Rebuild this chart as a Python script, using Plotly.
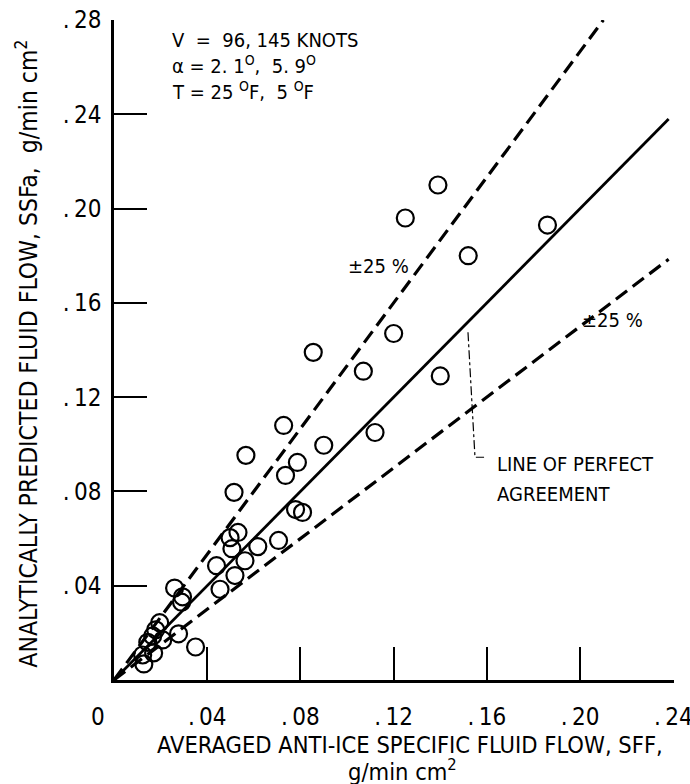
import plotly.graph_objects as go

# ---- data ----
sff = [0.186, 0.152, 0.139, 0.125, 0.120, 0.0855, 0.107, 0.140, 0.0728, 0.090,
       0.112, 0.0566, 0.0787, 0.0736, 0.0515, 0.0779, 0.0809, 0.0532, 0.0498, 0.0506,
       0.0617, 0.0706, 0.0562, 0.0440, 0.0519, 0.0455, 0.0260, 0.0294, 0.0290, 0.0277,
       0.0350, 0.0196, 0.0179, 0.0166, 0.0145, 0.0209, 0.0170, 0.0123, 0.0128]
ssfa = [0.193, 0.180, 0.210, 0.196, 0.147, 0.139, 0.131, 0.129, 0.108, 0.0996,
        0.105, 0.0953, 0.0923, 0.0868, 0.0796, 0.0723, 0.0711, 0.0626, 0.0604, 0.0557,
        0.0566, 0.0592, 0.0506, 0.0485, 0.0443, 0.0385, 0.0390, 0.0353, 0.0330, 0.0196,
        0.0140, 0.0243, 0.0213, 0.0187, 0.0160, 0.0170, 0.0115, 0.0106, 0.0068]

perfect_x = [0.0, 0.238]
perfect_y = [0.0, 0.238]
upper_x = [0.0, 0.210]
upper_y = [0.0, 0.280]
lower_x = [0.0, 0.238]
lower_y = [0.0, 0.1785]

x_tickvals = [0.04, 0.08, 0.12, 0.16, 0.20, 0.24]
x_ticktext = [".\u200904", ".\u200908", ".\u200912", ".\u200916", ".\u200920", ".\u200924"]
y_tickvals = [0.04, 0.08, 0.12, 0.16, 0.20, 0.24, 0.28]
y_ticktext = [".\u200904", ".\u200908", ".\u200912", ".\u200916", ".\u200920", ".\u200924", ".\u200928"]

FONT = "Liberation Sans Narrow, DejaVu Sans Condensed, Arial Narrow, Roboto, sans-serif"

fig = go.Figure()
fig.add_trace(go.Scatter(x=perfect_x, y=perfect_y, mode="lines",
                         line=dict(color="black", width=2.8), showlegend=False))
fig.add_trace(go.Scatter(x=upper_x, y=upper_y, mode="lines",
                         line=dict(color="black", width=3.2, dash="14px,7px"), showlegend=False))
fig.add_trace(go.Scatter(x=lower_x, y=lower_y, mode="lines",
                         line=dict(color="black", width=3.2, dash="14px,7px"), showlegend=False))
fig.add_trace(go.Scatter(x=sff, y=ssfa, mode="markers",
                         marker=dict(symbol="circle-open", size=17, color="black",
                                     line=dict(width=2.2, color="black")),
                         showlegend=False))

# leader line for "LINE OF PERFECT AGREEMENT"
fig.add_shape(type="path", xref="x", yref="y",
              path="M 0.1519,0.1475 L 0.1549,0.0945 L 0.1588,0.0945",
              line=dict(color="black", width=1.2, dash="dashdot"))

ann = []
def add(text, x, y, xanchor="left", yanchor="middle", size=19, xref="x", yref="y",
        xshift=0, yshift=0, textangle=0):
    ann.append(dict(text=text, x=x, y=y, xref=xref, yref=yref, showarrow=False,
                    xanchor=xanchor, yanchor=yanchor, xshift=xshift, yshift=yshift,
                    textangle=textangle,
                    font=dict(family=FONT, size=size, color="black")))

add("V  =  96, 145 KNOTS", 0.0240, 0.2715, size=20)
add("\u03b1 = 2. 1<sup>O</sup>,  5. 9<sup>O</sup>", 0.0240, 0.2610, size=20)
add("T = 25 <sup>O</sup>F,  5 <sup>O</sup>F", 0.0240, 0.2500, size=20)
add("\u00b125 %", 0.0994, 0.1755, size=20)
add("\u00b125 %", 0.2000, 0.1527, size=20)
add("LINE OF PERFECT", 0.1635, 0.0915, size=20)
add("AGREEMENT", 0.1635, 0.0790, size=20)
add("0", 0, 0, xanchor="center", yanchor="middle", xshift=-16, yshift=-37, size=24)
add("AVERAGED ANTI-ICE SPECIFIC FLUID FLOW, SFF,", 0.528, -0.0985, xanchor="center",
    xref="paper", yref="paper", size=23.5)
add("g/min cm<sup>2</sup>", 0.515, -0.137, xanchor="center", yanchor="middle",
    xref="paper", yref="paper", size=23.5)
add("ANALYTICALLY PREDICTED FLUID FLOW, SSFa,  g/min cm<sup>2</sup>", -0.1547, 0.495,
    xanchor="center", xref="paper", yref="paper", size=24.5, textangle=-90)

fig.update_layout(
    width=690, height=784,
    margin=dict(l=114, r=16, t=20, b=104, autoexpand=False),
    paper_bgcolor="white", plot_bgcolor="white",
    font=dict(family=FONT, size=20, color="black"),
    annotations=ann,
    xaxis=dict(range=[0, 0.2403], tickvals=x_tickvals, ticktext=x_ticktext,
               ticks="inside", ticklen=33, tickwidth=2, tickcolor="black",
               showline=True, linecolor="black", linewidth=2.5, showgrid=False,
               zeroline=False, ticklabelstandoff=13, ticklabeloverflow="allow",
               automargin=False, tickfont=dict(family=FONT, size=24)),
    yaxis=dict(range=[0, 0.28], tickvals=y_tickvals, ticktext=y_ticktext,
               ticks="inside", ticklen=33, tickwidth=2, tickcolor="black",
               showline=True, linecolor="black", linewidth=2.5, showgrid=False,
               zeroline=False, ticklabelstandoff=5, automargin=False,
               tickfont=dict(family=FONT, size=24)),
)

fig.write_html("out.html", config={"displayModeBar": False},
               post_script="document.body.style.margin='0';document.body.style.overflow='hidden';")
